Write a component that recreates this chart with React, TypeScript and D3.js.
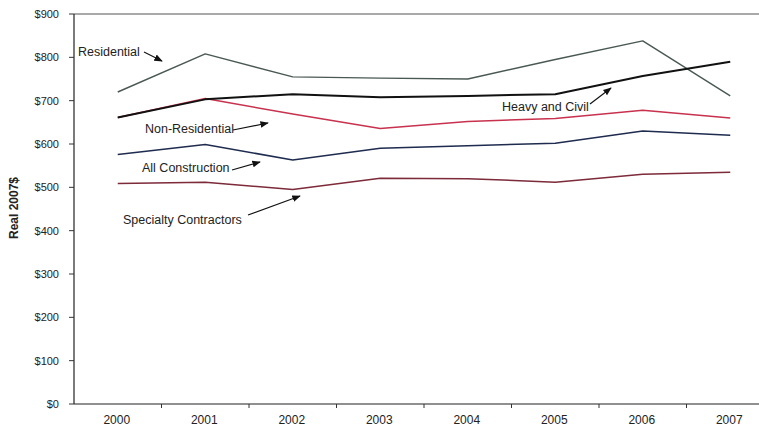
import React from "react";
import * as d3 from "d3";

const years = ["2000", "2001", "2002", "2003", "2004", "2005", "2006", "2007"];
const residential = [720, 808, 755, 752, 750, 795, 838, 711];
const heavyCivil = [661, 703, 715, 708, 711, 715, 757, 790];
const nonResidential = [661, 705, 669, 636, 652, 659, 678, 660];
const allConstruction = [576, 599, 563, 590, 596, 602, 630, 620];
const specialty = [509, 512, 495, 521, 520, 512, 530, 535];
const yTicks = [0, 100, 200, 300, 400, 500, 600, 700, 800, 900];

const seriesList = [
  { name: "Residential", values: residential, color: "#4a5853", width: 1.4 },
  { name: "Specialty Contractors", values: specialty, color: "#7d2a3a", width: 1.5 },
  { name: "All Construction", values: allConstruction, color: "#1f2c4f", width: 1.5 },
  { name: "Non-Residential", values: nonResidential, color: "#c8324e", width: 1.5 },
  { name: "Heavy and Civil", values: heavyCivil, color: "#111111", width: 2 },
];

const annotations = [
  { text: "Residential", x: 78, y: 56, ax1: 144, ay1: 52, ax2: 162, ay2: 61 },
  { text: "Non-Residential", x: 145, y: 133, ax1: 233, ay1: 130, ax2: 268, ay2: 123 },
  { text: "All Construction", x: 142, y: 172, ax1: 232, ay1: 170, ax2: 260, ay2: 162 },
  { text: "Specialty Contractors", x: 123, y: 224, ax1: 248, ay1: 215, ax2: 300, ay2: 196 },
  { text: "Heavy and Civil", x: 502, y: 111, ax1: 590, ay1: 104, ax2: 611, ay2: 88 },
];

export default function App() {
  const W = 759, H = 429;
  const left = 74, right = 774, top = 14, bottom = 404;
  const x = d3.scaleBand<string>().domain(years).range([left, right]).padding(0);
  const y = d3.scaleLinear().domain([0, 900]).range([bottom, top]);
  const cx = (i: number) => (x(years[i]) as number) + x.bandwidth() / 2;
  const line = d3.line<number>().x((_, i) => cx(i)).y((v) => y(v));
  const font = "'Liberation Sans', Arial, sans-serif";

  return (
    <svg width={W} height={H} style={{ position: "absolute", left: 0, top: 0, background: "#fff" }} fontFamily={font}>
      <defs>
        <marker id="arr" viewBox="0 0 10 10" refX="9" refY="5" markerWidth="7" markerHeight="7" orient="auto">
          <path d="M0,1 L10,5 L0,9 z" fill="#111" />
        </marker>
      </defs>
      <rect width={W} height={H} fill="#fff" />
      <line x1={left} x2={right} y1={top} y2={top} stroke="#555" strokeWidth={1.2} />
      <line x1={left} x2={left} y1={top} y2={bottom} stroke="#222" strokeWidth={1.2} />
      <line x1={left} x2={right} y1={bottom} y2={bottom} stroke="#222" strokeWidth={1.2} />
      {yTicks.map((t) => (
        <g key={t}>
          <line x1={left - 5} x2={left} y1={y(t)} y2={y(t)} stroke="#333" />
          <text x={59} y={y(t) + 4} textAnchor="end" fontSize={11} fill="#222">{"$" + t}</text>
        </g>
      ))}
      {years.map((yr, i) => (
        <g key={yr}>
          {i > 0 && (
            <line x1={x(yr) as number} x2={x(yr) as number} y1={bottom} y2={bottom + 4} stroke="#333" />
          )}
          <text x={cx(i) - 1} y={424} textAnchor="middle" fontSize={12} fill="#222">{yr}</text>
        </g>
      ))}
      <text transform={`translate(18,208) rotate(-90)`} textAnchor="middle" fontSize={12} fontWeight="bold" fill="#222">
        Real 2007$
      </text>
      {seriesList.map((s) => (
        <path key={s.name} d={line(s.values) as string} fill="none" stroke={s.color} strokeWidth={s.width} strokeLinejoin="round" />
      ))}
      {annotations.map((a) => (
        <g key={a.text}>
          <text x={a.x} y={a.y} fontSize={12.5} fill="#222">{a.text}</text>
          <line x1={a.ax1} y1={a.ay1} x2={a.ax2} y2={a.ay2} stroke="#111" strokeWidth={1.2} markerEnd="url(#arr)" />
        </g>
      ))}
    </svg>
  );
}
